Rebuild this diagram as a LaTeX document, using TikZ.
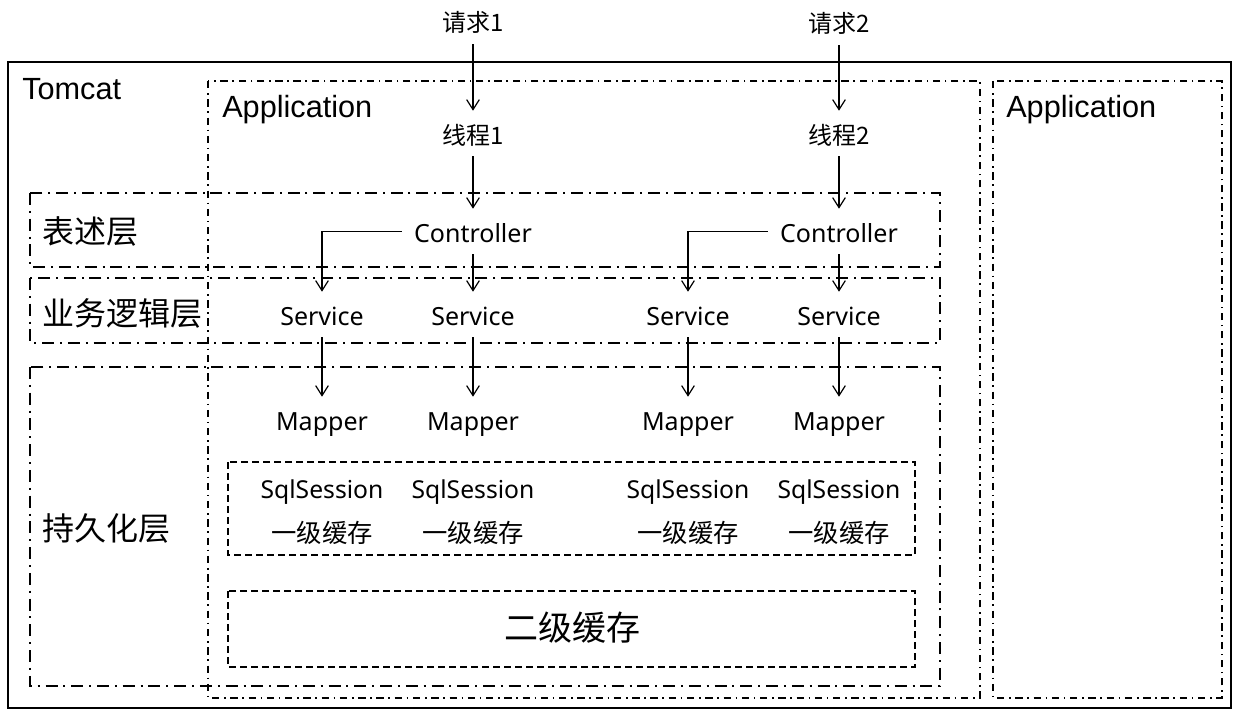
\documentclass[tikz,border=0pt]{standalone}
\usepackage{fontspec}
\setmainfont{Liberation Sans}
\newfontfamily\cjkf{Noto Sans CJK SC}
\newfontfamily\latf{Noto Sans}
\usetikzlibrary{arrows.meta}

\begin{document}
\begin{tikzpicture}[x=0.75pt,y=-0.75pt,
  arr/.style={draw, line width=0.9pt, -{Straight Barb[length=7.5pt,width=9.5pt,line width=0.9pt]}},
  tomcatbox/.style={draw, line width=1.3pt},
  appbox/.style={draw, line width=1pt, dash pattern=on 5.5pt off 3.5pt on 1.2pt off 3.5pt},
  layerbox/.style={draw, line width=1pt, dash pattern=on 9pt off 4.4pt on 1.5pt off 4.4pt},
  cachebox/.style={draw, line width=1pt, dash pattern=on 5pt off 3.25pt},
  lbl/.style={inner sep=0pt, text height=24.75pt, text depth=9pt, anchor=base},
  lat/.style={lbl, font=\latf\fontsize{18.75pt}{20pt}\selectfont},
  cjk/.style={lbl, font=\cjkf\fontsize{18pt}{20pt}\selectfont},
  title/.style={inner sep=0pt, anchor=base west, font=\fontsize{23pt}{25pt}\selectfont},
  layer/.style={inner sep=0pt, anchor=base west, font=\cjkf\fontsize{24pt}{26pt}\selectfont},
  sess/.style={inner sep=0pt, anchor=base, font=\latf\fontsize{18.5pt}{20pt}\selectfont},
  cache/.style={inner sep=0pt, anchor=base, font=\cjkf\fontsize{19pt}{21pt}\selectfont}
]
\useasboundingbox (0,0) rectangle (1234,724);

% containers
\draw[tomcatbox] (8,62) rectangle (1231,708);
\draw[appbox] (208,81) rectangle (980,698);
\draw[appbox] (993,81) rectangle (1222,698);
\draw[layerbox] (30,193) rectangle (940,267);
\draw[layerbox] (30,278) rectangle (940,343);
\draw[layerbox] (30,367) rectangle (940,686);
\draw[cachebox] (228,462) rectangle (915,555);
\draw[cachebox] (228,591) rectangle (915,667);

% titles
\node[title] (tomcat) at (22,99) {Tomcat};
\node[title] (app1) at (222,117) {Application};
\node[title] (app2) at (1006,117) {Application};
\node[layer] (l1) at (42,243) {表述层};
\node[layer] (l2) at (42,325) {业务逻辑层};
\node[layer] (l3) at (42,540) {持久化层};

% requests and threads
\node[cjk] (req1) at (473,32) {请求1};
\node[cjk] (req2) at (839,33) {请求2};
\node[cjk] (th1) at (473,144) {线程1};
\node[cjk] (th2) at (839,144) {线程2};

% controllers
\node[lat, inner xsep=9pt] (ctl1) at (473,242) {Controller};
\node[lat, inner xsep=9pt] (ctl2) at (839,242) {Controller};

% services
\node[lat] (svc1) at (322,325) {Service};
\node[lat] (svc2) at (473,325) {Service};
\node[lat] (svc3) at (688,325) {Service};
\node[lat] (svc4) at (839,325) {Service};

% mappers
\node[lat] (map1) at (322,430) {Mapper};
\node[lat] (map2) at (473,430) {Mapper};
\node[lat] (map3) at (688,430) {Mapper};
\node[lat] (map4) at (839,430) {Mapper};

% sessions
\node[sess] (ss1) at (322,498) {SqlSession};
\node[sess] (ss2) at (473,498) {SqlSession};
\node[sess] (ss3) at (688,498) {SqlSession};
\node[sess] (ss4) at (839,498) {SqlSession};
\node[cache] (c1) at (322,542) {一级缓存};
\node[cache] (c2) at (473,542) {一级缓存};
\node[cache] (c3) at (688,542) {一级缓存};
\node[cache] (c4) at (839,542) {一级缓存};
\node[cache, font=\cjkf\fontsize{25.5pt}{27pt}\selectfont] (c2nd) at (572,640) {二级缓存};

% arrows
\draw[arr] (req1.south) -- (th1.north);
\draw[arr] (req2.south) -- (th2.north);
\draw[arr] (th1.south) -- (ctl1.north);
\draw[arr] (th2.south) -- (ctl2.north);
\draw[arr] (ctl1.south) -- (svc2.north);
\draw[arr] (ctl2.south) -- (svc4.north);
\draw[arr] (ctl1.west) -| (svc1.north);
\draw[arr] (ctl2.west) -| (svc3.north);
\draw[arr] (svc1.south) -- (map1.north);
\draw[arr] (svc2.south) -- (map2.north);
\draw[arr] (svc3.south) -- (map3.north);
\draw[arr] (svc4.south) -- (map4.north);
\end{tikzpicture}
\end{document}
